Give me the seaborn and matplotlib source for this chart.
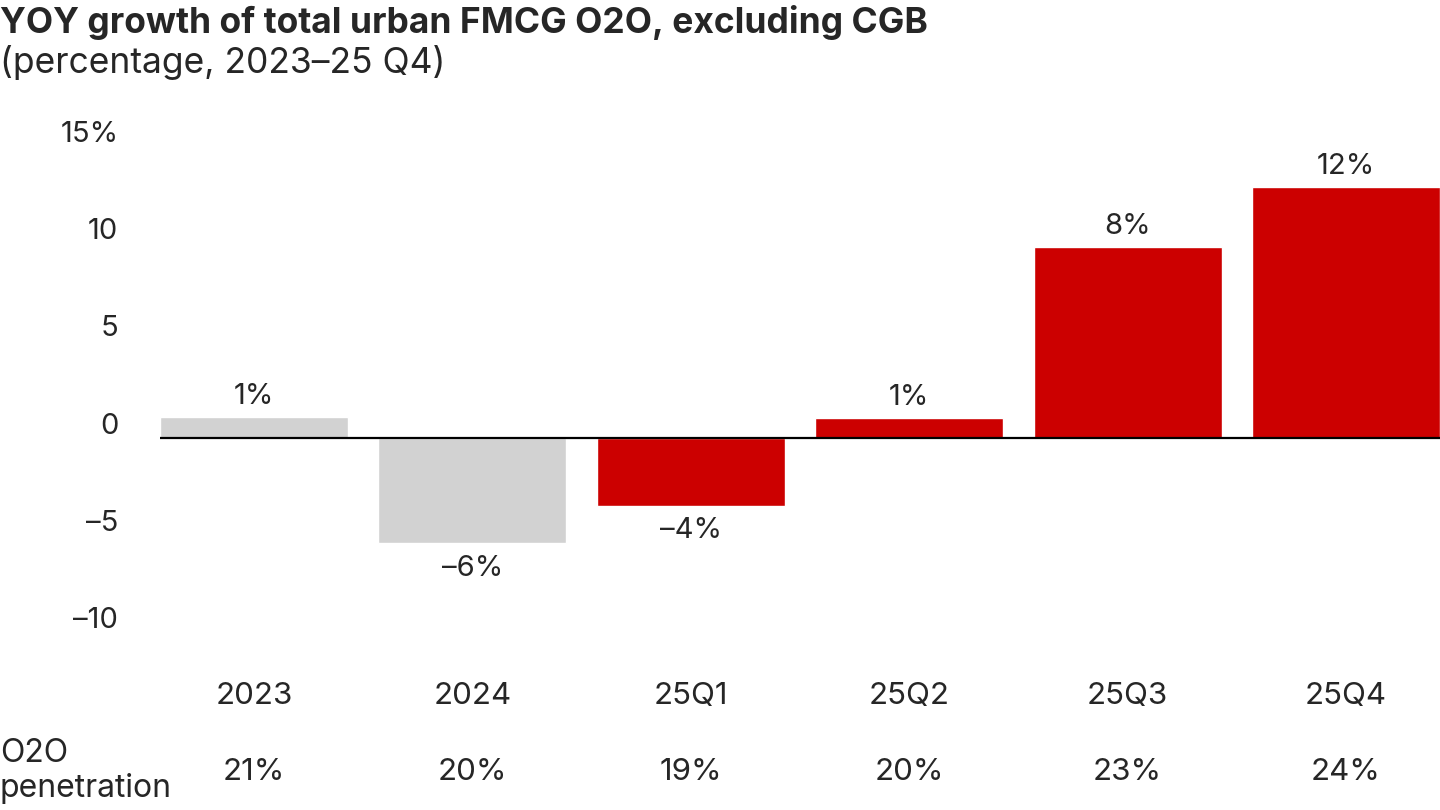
import matplotlib
matplotlib.use("Agg")
import matplotlib.pyplot as plt
import matplotlib.transforms as mtransforms
import seaborn as sns
import pandas as pd

# data
periods = ["2023", "2024", "25Q1", "25Q2", "25Q3", "25Q4"]
growth = [1.1, -5.4, -3.5, 1.05, 9.8, 12.9]
growth_labels = ["1%", "\u20136%", "\u20134%", "1%", "8%", "12%"]
penetration = ["21%", "20%", "19%", "20%", "23%", "24%"]
bar_colors = ["#D2D2D2", "#D2D2D2", "#CC0000", "#CC0000", "#CC0000", "#CC0000"]
y_ticks = [-10, -5, 0, 5, 10, 15]
y_ticklabels = ["\u201310", "\u20135", "0", "5", "10", "15%"]

sns.set_style("white")
plt.rcParams["font.family"] = ["Inter", "Roboto", "DejaVu Sans"]

DPI = 100
fig = plt.figure(figsize=(14.4, 8.1), dpi=DPI)
ax = fig.add_axes([160 / 1440, 1 - 633 / 810, 1280 / 1440, (633 - 146) / 810])

df = pd.DataFrame({"period": periods, "growth": growth})
sns.barplot(data=df, x="period", y="growth", hue="period", palette=bar_colors,
            legend=False, width=0.861, saturation=1, ax=ax)

ax.set_xlim(-0.431, 5.431)
ax.set_ylim(-10, 15)
ax.axhline(0, color="black", lw=1.6, zorder=5)
sns.despine(ax=ax, left=True, bottom=True)

# value labels
for i, (v, lab) in enumerate(zip(growth, growth_labels)):
    if v >= 0:
        ax.annotate(lab, (i, v), xytext=(0, 5), textcoords="offset points",
                    ha="center", va="bottom", fontsize=21)
    else:
        ax.annotate(lab, (i, v), xytext=(0, -8), textcoords="offset points",
                    ha="center", va="top", fontsize=21)

# y axis: labels sit a bit above the tick value
ax.set_yticks(y_ticks)
ax.set_yticklabels(y_ticklabels, fontsize=21)
ax.tick_params(axis="y", length=0, pad=30)
shift = mtransforms.ScaledTranslation(0, 15 / DPI, fig.dpi_scale_trans)
for t in ax.get_yticklabels():
    t.set_transform(t.get_transform() + shift)

# category labels
ax.set_xticks(range(len(periods)))
ax.set_xticklabels(periods, fontsize=22.5)
ax.tick_params(axis="x", length=0, pad=35)
ax.set_xlabel("")
ax.set_ylabel("")

# O2O penetration row
row = mtransforms.blended_transform_factory(ax.transData, fig.transFigure)
for i, p in enumerate(penetration):
    ax.text(i, 1 - 772 / 810, p, transform=row, ha="center", va="center",
            fontsize=22.5)
fig.text(0, 1 - 771 / 810, "O2O\npenetration", ha="left", va="center",
         fontsize=23, linespacing=1.15)

# title
fig.text(0, 1 - 22 / 810, "YOY growth of total urban FMCG O2O, excluding CGB",
         ha="left", va="center", fontsize=25.5, fontweight="bold")
fig.text(0, 1 - 62 / 810, "(percentage, 2023\u201325 Q4)",
         ha="left", va="center", fontsize=25.5)

fig.savefig("out.png", dpi=DPI)
